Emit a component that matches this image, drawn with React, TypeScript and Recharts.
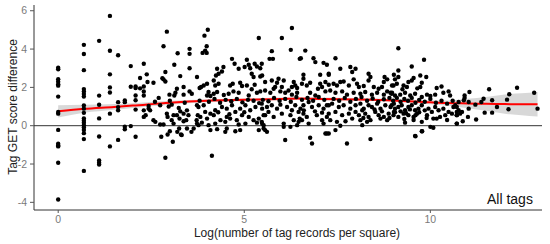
import React from "react";
import { ComposedChart, Scatter, Line, Area, XAxis, YAxis, ReferenceLine, Label } from "recharts";

const xTicks = [0, 5, 10];
const yTicks = [-4, -2, 0, 2, 4, 6];
const xTitle = "Log(number of tag records per square)";
const yTitle = "Tag GET score difference";
const panelTag = "All tags";

type P = [number, number];

const ptsLeft: P[] = [
  [0, 3.03], [0, 2.94], [0, 2.43], [0, 2.3], [0, 2.17], [0, 2.09], [0, 1.52], [0, 0.72], [0, 0.63], [0, -0.22], [0, -0.94], [0, -1.03], [0, -1.08], [0, -1.93], [0, -3.85],
  [0.69, 4.22], [0.69, 3.74], [0.69, 2.9], [0.69, 1.91], [0.69, 1.79], [0.69, 1.66], [0.69, 1.52], [0.69, 1.06], [0.69, 0.89], [0.69, 0.67], [0.69, 0.38], [0.69, 0.26], [0.69, 0.15], [0.69, 0.03], [0.69, -0.09], [0.69, -0.22], [0.69, -0.39], [0.69, -0.7], [0.69, -2.36],
  [1.1, 4.43], [1.1, 1.57], [1.1, 1.09], [1.1, 0.38], [1.1, -0.56], [1.1, -1.81], [1.1, -1.93], [1.1, -2.03],
  [1.39, 5.73], [1.39, 3.91], [1.39, 2.68], [1.39, 2.0], [1.39, 1.73], [1.39, 0.63], [1.39, -1.08],
  [1.61, 3.68], [1.61, 1.23], [1.61, 0.97], [1.61, 0.8], [1.61, -0.74],
  [1.79, 1.32], [1.79, 1.23], [1.79, -0.05], [1.79, -0.19],
  [1.95, 3.11], [1.95, 2.03], [1.95, -0.02],
  [2.08, 2.05], [2.08, 1.97], [2.08, 1.58], [2.08, 1.33], [2.08, 0.84], [2.08, -0.58],
  [2.2, 2.49], [2.2, 1.95],
  [2.3, 3.23], [2.3, 2.05], [2.3, 1.79], [2.3, 1.58], [2.3, 0.8], [2.3, 0.46],
];

const ptsA: P[] = [
  [2.38, 2.68], [2.4, 2.28], [2.43, 1.03], [2.43, 0.89], [2.47, 0.8], [2.35, 0.55], [2.56, 2.24], [2.56, 0.29], [2.61, 0.2], [2.7, 1.45],
  [2.74, 1.07], [2.74, 0.06], [2.77, -0.58], [2.8, 2.48], [2.83, 2.42], [2.83, 4.15], [2.83, 0.06], [2.88, 2.31], [2.88, 2.8], [2.88, -1.67],
  [2.92, 4.91], [2.92, 0.63], [2.94, 0.46], [2.94, -0.46], [2.97, 1.0], [2.99, 1.62], [3.0, -0.29], [3.05, 1.1], [3.08, -0.84], [3.1, 0.55],
  [3.1, 0.11], [3.05, 0.29], [3.12, 3.18], [3.12, 1.58], [3.15, 1.72], [3.19, 1.93], [3.19, 0.55], [3.2, -0.32], [3.21, 3.78], [3.24, 0.93],
  [3.25, -0.15], [3.26, 0.37], [3.28, 2.59], [3.28, 0.75], [3.3, -0.46], [3.32, -0.49], [3.37, 2.02], [3.37, 1.62], [3.37, 0.63], [3.37, 0.23],
  [3.44, 0.29], [3.46, -0.15], [3.46, 0.8], [3.5, 0.55], [3.53, 4.01], [3.53, 3.75], [3.53, 3.0], [3.53, 1.79], [3.58, -0.32], [3.59, 1.67],
  [3.64, -0.15], [3.73, 2.54], [3.73, 1.07], [3.75, 0.55], [3.72, 0.29], [3.77, 0.03], [3.8, 1.97], [3.0, 1.3], [3.4, 1.2], [2.6, 1.25],
];

const ptsB: P[] = [
  [4.02, 5.01], [3.93, 4.7], [3.99, 4.15], [3.95, 3.92], [3.88, 3.8], [3.99, 3.8], [5.39, 4.58], [4.67, 3.49], [4.74, 3.23], [5.07, 3.44],
  [5.01, 3.06], [5.16, 3.0], [5.12, 3.18], [5.28, 3.23], [5.34, 3.09], [4.27, 2.97], [4.31, 2.71], [4.24, 2.62], [4.44, 3.06], [4.4, 2.83],
  [4.85, 2.97], [5.43, 3.0], [5.48, 2.62], [5.2, 2.71], [5.25, 2.54], [4.18, 2.36], [4.22, 2.1], [4.31, 2.19], [4.0, 2.19], [3.91, 2.1],
  [3.84, 2.02], [4.62, 2.1], [4.69, 2.19], [4.89, 2.24], [4.94, 2.07], [5.07, 2.1], [5.28, 2.14], [4.04, 1.76], [4.18, 1.67], [4.27, 1.76],
  [4.09, 1.55], [4.0, 1.58], [4.58, 1.67], [4.71, 1.79], [4.85, 1.72], [5.12, 1.58], [5.34, 1.72], [5.43, 1.79],
  [3.77, 0.98], [3.91, 1.07], [3.95, 0.72], [4.09, 0.63], [4.22, 0.81], [4.4, 0.98], [4.53, 0.89], [4.67, 1.07], [4.76, 0.72], [4.89, 0.89],
  [5.03, 1.07], [5.16, 0.81], [5.3, 0.98], [5.48, 0.89], [3.82, 0.46], [4.0, 0.37], [4.18, 0.55], [4.36, 0.29], [4.53, 0.46], [4.62, 0.37],
  [4.8, 0.29], [4.94, 0.55], [5.12, 0.46], [5.25, 0.29], [5.39, 0.37], [5.52, 0.55], [3.73, 0.11], [3.86, 0.16], [4.04, 0.03], [4.22, 0.11],
  [4.49, 0.2], [4.85, 0.06], [5.03, 0.11], [5.34, 0.16], [5.48, 0.11], [4.09, -0.23], [4.27, -0.18], [4.49, -0.32], [4.53, -0.15], [4.76, -0.29],
  [4.89, -0.23], [5.39, -0.23], [5.52, -0.15], [4.13, -1.57], [3.8, 1.3], [4.05, 1.25], [4.2, 1.4], [4.35, 1.2], [4.5, 1.35], [4.65, 1.28],
  [4.8, 1.4], [4.95, 1.22], [5.1, 1.35], [5.25, 1.3], [5.4, 1.18], [4.3, 0.7], [4.6, 0.6], [5.0, 0.7], [4.45, 1.6], [5.2, 1.9],
];

const ptsC: P[] = [
  [6.28, 5.1], [6.01, 4.58], [5.74, 3.89], [6.25, 3.96], [6.64, 3.92], [5.68, 3.49], [5.77, 3.49], [6.49, 3.49], [6.52, 3.52], [6.86, 3.52],
  [6.91, 3.32], [5.47, 3.23], [7.13, 3.28], [7.04, 2.66], [7.27, 2.66], [5.43, 2.57], [5.56, 2.28], [5.74, 2.36], [5.88, 2.24], [5.83, 2.02],
  [5.92, 2.45], [6.06, 2.36], [6.01, 2.02], [6.33, 2.28], [6.37, 2.1], [6.42, 1.97], [6.28, 2.02], [6.59, 2.66], [6.59, 2.45], [6.55, 2.19],
  [6.68, 2.1], [6.77, 2.24], [7.04, 2.19], [7.09, 2.02], [6.98, 1.93], [7.18, 2.28], [7.27, 2.14], [5.56, 1.84], [5.7, 1.72], [5.79, 1.93],
  [5.97, 1.79], [6.1, 1.72], [6.19, 1.84], [6.28, 1.62], [6.42, 1.72], [6.77, 1.72], [6.91, 1.58], [7.18, 1.79],
  [5.47, 1.15], [5.61, 0.98], [5.74, 1.07], [5.88, 0.89], [5.97, 1.1], [6.15, 0.98], [6.28, 0.81], [6.37, 1.07], [6.51, 0.89], [6.59, 1.07],
  [6.73, 1.24], [6.82, 0.98], [7.0, 1.07], [7.13, 0.89], [7.27, 1.07], [5.56, 0.55], [5.65, 0.72], [5.79, 0.46], [6.01, 0.63], [6.24, 0.55],
  [6.46, 0.72], [6.49, 0.37], [6.59, 0.63], [6.68, 0.46], [6.95, 0.55], [7.09, 0.68], [7.22, 0.46], [5.47, 0.2], [5.52, 0.03], [5.56, -0.23],
  [5.61, -0.32], [6.06, 0.11], [6.33, 0.29], [6.46, 0.2], [6.55, 0.29], [6.73, 0.11], [7.09, 0.29], [7.13, 0.11], [7.18, -0.41], [7.27, -0.41],
  [6.06, -0.06], [6.24, -0.06], [6.42, 0.03], [6.77, -0.63], [6.82, -0.93], [6.1, -0.75], [5.5, 1.35], [5.65, 1.28], [5.8, 1.45], [5.95, 1.3],
  [6.1, 1.4], [6.25, 1.25], [6.4, 1.5], [6.55, 1.35], [6.7, 1.45], [6.85, 1.3], [7.0, 1.5], [7.15, 1.35], [6.6, 0.8], [6.9, 0.75],
];

const ptsD: P[] = [
  [7.45, 3.52], [7.22, 3.18], [7.58, 2.97], [7.85, 3.06], [7.99, 2.97], [7.9, 2.8], [7.27, 2.71], [7.94, 2.42], [8.34, 2.71], [8.39, 2.54],
  [8.34, 2.36], [8.77, 2.54], [8.84, 2.42], [8.75, 2.28], [8.97, 2.1], [9.02, 2.66], [7.4, 2.19], [7.49, 2.1], [7.58, 2.28], [7.67, 2.31],
  [7.81, 2.1], [8.03, 2.19], [8.08, 2.02], [8.21, 2.07], [8.48, 2.02], [8.61, 1.93], [8.7, 2.02], [8.84, 1.79], [8.93, 1.72],
  [7.31, 1.84], [7.45, 1.72], [7.63, 1.79], [7.76, 1.62], [7.94, 1.72], [8.12, 1.67], [8.25, 1.76], [8.43, 1.62], [8.57, 1.72], [8.75, 1.62],
  [8.97, 1.72], [7.22, 1.07], [7.36, 1.15], [7.54, 0.98], [7.67, 1.07], [7.85, 0.89], [7.99, 1.07], [8.12, 1.15], [8.21, 0.89], [8.34, 1.07],
  [8.43, 0.98], [8.57, 1.15], [8.66, 0.89], [8.79, 1.07], [8.93, 0.98], [9.02, 1.15], [7.27, 0.63], [7.45, 0.72], [7.63, 0.55], [7.81, 0.63],
  [7.99, 0.72], [8.08, 0.55], [8.17, 0.81], [8.25, 0.63], [8.34, 0.46], [8.52, 0.72], [8.61, 0.55], [8.75, 0.46], [8.88, 0.63], [9.02, 0.72],
  [7.31, 0.29], [7.49, 0.2], [7.72, 0.23], [7.9, 0.37], [8.12, 0.29], [8.3, 0.2], [8.39, 0.29], [8.66, 0.37], [8.84, 0.29], [7.22, -0.41],
  [7.45, -0.23], [7.58, 0.0], [8.17, 0.03], [8.39, -0.7], [7.76, -0.93], [7.4, 1.4], [7.55, 1.3], [7.7, 1.45], [7.85, 1.25], [8.0, 1.4],
  [8.15, 1.5], [8.3, 1.3], [8.45, 1.42], [8.6, 1.25], [8.75, 1.38], [8.9, 1.45], [8.2, 0.4], [8.5, 0.85], [8.7, 0.75], [8.9, 0.4],
];

const ptsE: P[] = [
  [9.14, 4.04], [9.83, 3.44], [9.5, 3.09], [9.14, 2.88], [9.05, 2.42], [9.14, 2.54], [9.1, 2.19], [9.01, 2.1], [9.28, 2.1], [9.37, 2.02],
  [9.41, 2.28], [9.5, 2.36], [9.55, 2.49], [9.73, 2.62], [9.77, 2.24], [9.73, 2.02], [9.89, 2.54], [10.17, 1.97], [10.13, 1.62], [10.35, 1.72],
  [10.49, 1.79], [10.53, 1.58], [8.96, 1.67], [9.05, 1.58], [9.19, 1.62], [9.32, 1.72], [9.46, 1.58], [9.59, 1.67], [9.77, 1.5], [9.91, 1.62],
  [10.0, 1.55], [8.96, 1.07], [9.05, 0.89], [9.14, 0.98], [9.23, 1.07], [9.32, 0.81], [9.41, 0.98], [9.5, 1.07], [9.59, 0.81], [9.68, 0.89],
  [9.77, 1.07], [9.95, 0.89], [10.04, 0.72], [10.13, 0.98], [10.22, 0.81], [10.35, 0.89], [10.49, 0.72], [10.62, 0.98], [10.76, 0.81],
  [9.01, 0.55], [9.14, 0.46], [9.28, 0.63], [9.41, 0.55], [9.55, 0.46], [9.64, 0.63], [9.91, 0.55], [10.08, 0.37], [10.26, 0.46], [10.4, 0.55],
  [10.58, 0.63], [10.71, 0.55], [9.32, 0.16], [9.77, 0.2], [10.17, 0.37], [10.71, 0.11], [10.0, -0.06], [10.08, -0.11], [9.59, -0.53], [9.77, -0.29],
  [9.6, -0.55], [9.78, -0.29], [10.0, 1.4], [9.0, 1.3], [9.1, 1.45], [9.2, 1.25], [9.3, 1.4], [9.4, 1.3], [9.5, 1.45], [9.6, 1.2],
  [9.7, 1.35], [9.85, 1.25], [10.15, 1.2], [10.3, 1.3], [10.45, 1.15], [10.6, 1.3], [9.05, 0.7], [9.2, 0.75], [9.35, 0.65], [9.45, 0.85],
  [9.6, 0.55], [9.7, 0.7], [9.85, 0.8], [9.9, 0.4], [9.3, 0.35], [9.55, 0.3], [9.25, 1.9], [9.65, 1.95], [10.3, 2.05], [10.45, 0.3],
];

const ptsRight: P[] = [
  [11.05, 1.76], [10.92, 1.58], [10.92, 1.45], [11.58, 1.9], [12.33, 1.98], [12.12, 1.64], [12.79, 1.72], [12.06, 1.36], [11.66, 1.33], [11.43, 1.41],
  [11.37, 1.24], [11.03, 1.24], [11.21, 1.1], [10.9, 1.33], [10.76, 1.24], [10.67, 1.07], [11.79, 0.98], [11.03, 0.89], [10.71, 0.98], [10.71, 0.72],
  [10.71, 0.55], [10.8, 0.63], [10.85, 0.72], [11.46, 0.68], [11.66, 0.68], [12.1, 0.86], [12.88, 0.89], [10.87, 0.23], [11.01, 0.46], [11.23, 0.32],
  [10.71, 0.11],
];

const loessX = [0, 0.69, 1.5, 2, 3, 4, 5, 6, 6.5, 7, 8, 9, 10, 10.5, 11, 11.5, 12, 12.45, 12.88];
const loessFit = [0.75, 0.88, 0.98, 1.05, 1.2, 1.3, 1.35, 1.4, 1.42, 1.4, 1.37, 1.32, 1.22, 1.18, 1.16, 1.14, 1.13, 1.12, 1.12];
const loessHalf = [0.32, 0.21, 0.15, 0.12, 0.1, 0.07, 0.07, 0.07, 0.07, 0.07, 0.07, 0.07, 0.1, 0.14, 0.25, 0.36, 0.5, 0.57, 0.64];

const points = [...ptsLeft, ...ptsA, ...ptsB, ...ptsC, ...ptsD, ...ptsE, ...ptsRight].map(([x, y]) => ({ x, y }));
const loess = loessX.map((x, i) => ({
  x,
  fit: loessFit[i],
  band: [loessFit[i] - loessHalf[i], loessFit[i] + loessHalf[i]],
}));

const FONT = "'Liberation Sans', Arial, sans-serif";

const Dot = (props: any) => <circle cx={props.cx} cy={props.cy} r={2.2} fill="#000" />;

export default function App() {
  return (
    <div style={{ position: "absolute", left: 0, top: 0, width: 550, height: 244, background: "#fff", fontFamily: FONT }}>
      <ComposedChart width={550} height={244} margin={{ top: 5, right: 8, bottom: 4, left: 0 }} data={loess}>
        <XAxis
          type="number"
          dataKey="x"
          domain={[-0.65, 13]}
          ticks={xTicks}
          allowDataOverflow
          height={30}
          tickSize={3}
          tickMargin={3}
          stroke="#333"
          tick={{ fill: "#7a7a7a", fontSize: 10.5, fontFamily: FONT }}
          tickLine={{ stroke: "#555" }}
        >
          <Label
            content={() => (
              <text x={297} y={237} textAnchor="middle" fontSize={12} fill="#222" fontFamily={FONT}>
                {xTitle}
              </text>
            )}
          />
        </XAxis>
        <YAxis
          type="number"
          domain={[-4.4, 6.3]}
          ticks={yTicks}
          allowDataOverflow
          width={34}
          tickSize={4}
          tickMargin={3}
          stroke="#333"
          tick={{ fill: "#7a7a7a", fontSize: 10.5, fontFamily: FONT }}
          tickLine={{ stroke: "#555" }}
        >
          <Label
            content={() => (
              <text
                x={12.5}
                y={107}
                transform="rotate(-90 12.5 107)"
                textAnchor="middle"
                dominantBaseline="central"
                fontSize={12}
                fill="#222"
                fontFamily={FONT}
              >
                {yTitle}
              </text>
            )}
          />
        </YAxis>
        <ReferenceLine y={0} stroke="#333" strokeWidth={1} />
        <Area
          dataKey="band"
          type="monotone"
          stroke="none"
          fill="#d4d4d4"
          fillOpacity={0.9}
          isAnimationActive={false}
          activeDot={false}
        />
        <Scatter data={points} dataKey="y" shape={Dot} isAnimationActive={false} />
        <Line
          dataKey="fit"
          type="monotone"
          stroke="#ff0000"
          strokeWidth={2}
          dot={false}
          activeDot={false}
          isAnimationActive={false}
        />
      </ComposedChart>
      <div
        style={{
          position: "absolute",
          left: 487,
          top: 191,
          fontSize: 14,
          color: "#111",
          fontFamily: FONT,
          lineHeight: "16px",
          whiteSpace: "nowrap",
        }}
      >
        {panelTag}
      </div>
    </div>
  );
}
